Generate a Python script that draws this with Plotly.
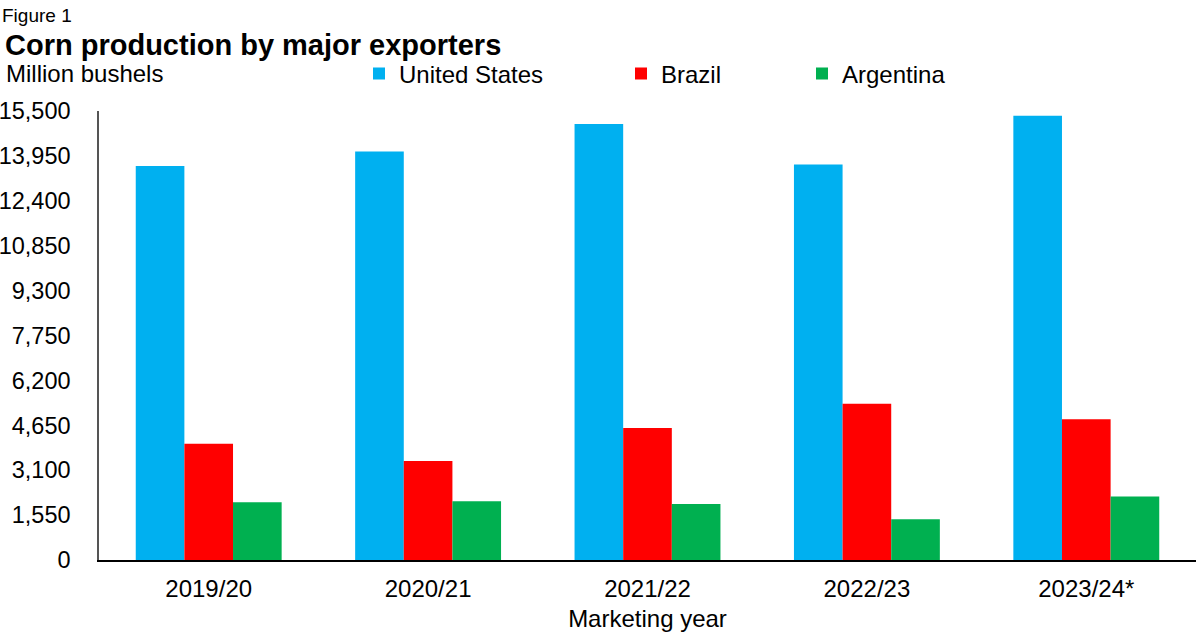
import plotly.graph_objects as go

years = ["2019/20", "2020/21", "2021/22", "2022/23", "2023/24*"]
united_states = [13600, 14100, 15050, 13650, 15340]
brazil = [4010, 3420, 4560, 5390, 4860]
argentina = [1995, 2030, 1935, 1410, 2190]
y_ticks = [0, 1550, 3100, 4650, 6200, 7750, 9300, 10850, 12400, 13950, 15500]

FONT = "Liberation Sans, Arial, sans-serif"
L, R, T, B = 99, 0, 111, 72
W, H = 1196, 632
pw = W - L - R
ph = H - T - B

def px(x):
    return (x - L) / pw

def py(y):
    return 1 + (T - y) / ph

fig = go.Figure()
fig.add_trace(go.Bar(x=years, y=united_states, name="United States",
                     marker=dict(color="#00B0F0", line=dict(width=0)), legend="legend"))
fig.add_trace(go.Bar(x=years, y=brazil, name="Brazil",
                     marker=dict(color="#FF0000", line=dict(width=0)), legend="legend2"))
fig.add_trace(go.Bar(x=years, y=argentina, name="Argentina",
                     marker=dict(color="#00B050", line=dict(width=0)), legend="legend3"))

leg_common = dict(orientation="h", yanchor="middle", xanchor="left",
                  font=dict(family=FONT, size=24, color="#000"),
                  bgcolor="rgba(0,0,0,0)", borderwidth=0, itemclick=False,
                  itemdoubleclick=False)
ly = py(74)

fig.update_layout(
    width=W, height=H,
    margin=dict(l=L, r=R, t=T, b=B, autoexpand=False),
    paper_bgcolor="white", plot_bgcolor="white",
    barmode="group", bargap=0.335, bargroupgap=0,
    showlegend=True,
    font=dict(family=FONT, size=24, color="#000"),
    legend=dict(x=px(359), y=ly, visible=True, **leg_common),
    legend2=dict(x=px(621), y=ly, visible=True, **leg_common),
    legend3=dict(x=px(802), y=ly, visible=True, **leg_common),
    xaxis=dict(showline=True, linecolor="#000", linewidth=2, ticks="",
               tickfont=dict(size=24), showgrid=False, ticklabelstandoff=6,
               automargin=False,
               title=dict(text="Marketing year", font=dict(size=24), standoff=10)),
    yaxis=dict(range=[0, 15500], tickvals=y_ticks, tickformat=",",
               showline=True, linecolor="#555", linewidth=1.5, ticks="",
               showgrid=False, zeroline=False, ticklabelstandoff=22,
               automargin=False, tickfont=dict(size=23.5)),
)

fig.add_annotation(text="Figure 1", xref="paper", yref="paper",
                   x=px(0), y=py(15), xanchor="left", yanchor="middle",
                   showarrow=False, font=dict(size=19))
fig.add_annotation(text="<b>Corn production by major exporters</b>", xref="paper", yref="paper",
                   x=px(3), y=py(45), xanchor="left", yanchor="middle",
                   showarrow=False, font=dict(size=29))
fig.add_annotation(text="Million bushels", xref="paper", yref="paper",
                   x=px(4), y=ly, xanchor="left", yanchor="middle",
                   showarrow=False, font=dict(size=24))

fig.write_html("out.html")
